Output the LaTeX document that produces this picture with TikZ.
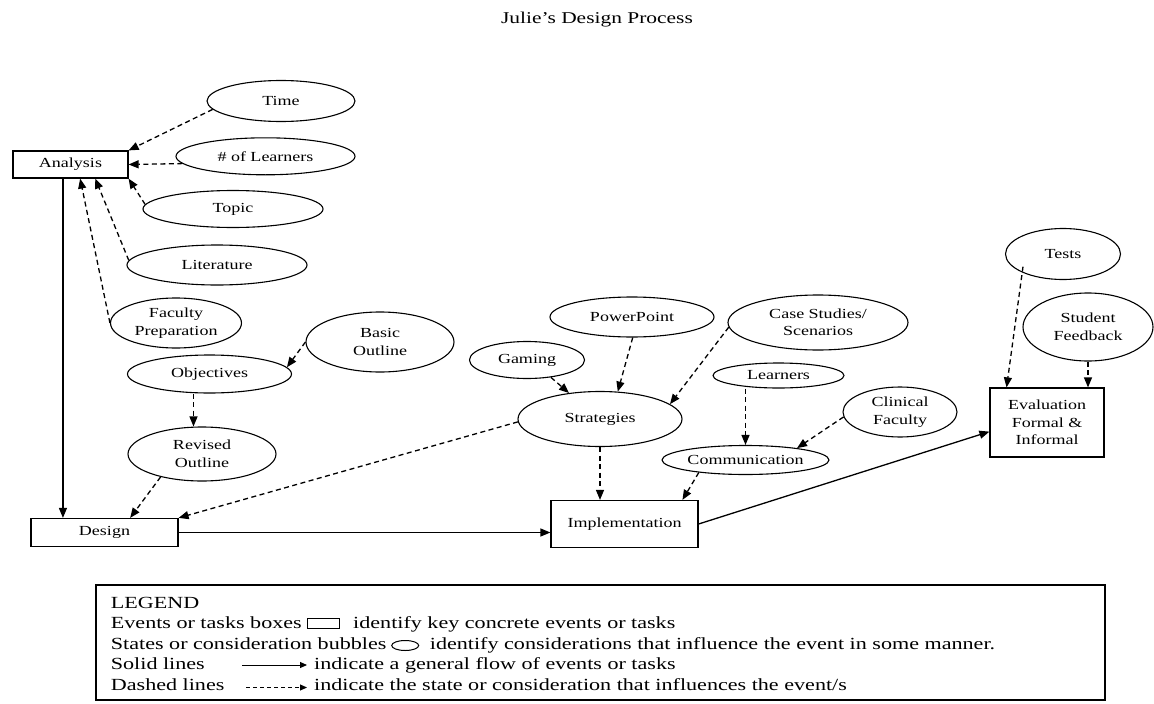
\documentclass[tikz,border=0pt]{standalone}
\usepackage{fontspec}
\setmainfont{Liberation Serif}[FakeStretch=1.3]
\usetikzlibrary{arrows.meta,shapes.geometric,calc}
\newcommand{\nodefont}{\fontsize{13.85}{17.5}\selectfont}
\newcommand{\legendfont}{\fontsize{17}{20.6}\selectfont}
\newcommand{\titlefont}{\fontsize{16.5}{20}\selectfont}

\begin{document}
\begin{tikzpicture}[x=1pt,y=-1pt,
  bubble/.style={ellipse, draw, line width=1.1pt, inner sep=0pt, align=center, font=\nodefont},
  taskbox/.style={rectangle, draw, line width=1.2pt, inner sep=0pt, align=center, font=\nodefont},
  flow/.style={line width=1.3pt, -{Triangle[length=10pt,width=8pt]}},
  influence/.style={flow, line width=1.3pt, dash pattern=on 5pt off 3.5pt},
  legtext/.style={anchor=base west, inner sep=0pt, font=\legendfont},
  legflow/.style={line width=1pt, -{Triangle[length=7pt,width=6pt]}},
  leginfluence/.style={legflow, dash pattern=on 4pt off 3pt}
]
\path[use as bounding box, fill=white] (0,0) rectangle (1154,704);

% title
\node[font=\titlefont] (title) at (597,20) {Julie's Design Process};

% events and tasks
\node[taskbox, minimum width=115pt, minimum height=27pt] (analysis) at (70.5,164.5) {Analysis};
\node[taskbox, minimum width=147pt, minimum height=28pt] (design) at (104.5,532.5) {Design};
\node[taskbox, minimum width=147pt, minimum height=47pt] (impl) at (624.5,524) {Implementation};
\node[taskbox, minimum width=114pt, minimum height=69pt] (eval) at (1047,422.5) {Evaluation\\Formal \&\\Informal};

% considerations
\node[bubble, minimum width=148pt, minimum height=41pt] (time) at (281,101) {Time};
\node[bubble, minimum width=179pt, minimum height=37pt] (nol) at (265.5,156.3) {\# of Learners};
\node[bubble, minimum width=180pt, minimum height=37pt] (topic) at (233,209) {Topic};
\node[bubble, minimum width=180pt, minimum height=40pt] (lit) at (217,265) {Literature};
\node[bubble, minimum width=131pt, minimum height=50pt] (fac) at (176,323) {Faculty\\Preparation};
\node[bubble, minimum width=148pt, minimum height=60pt] (basic) at (380,342) {Basic\\Outline};
\node[bubble, minimum width=164pt, minimum height=38pt] (obj) at (209.5,374) {Objectives};
\node[bubble, minimum width=148pt, minimum height=54pt] (rev) at (202,454) {Revised\\Outline};
\node[bubble, minimum width=115pt, minimum height=37pt] (gaming) at (527,360) {Gaming};
\node[bubble, minimum width=164pt, minimum height=40pt] (pp) at (632,317) {PowerPoint};
\node[bubble, minimum width=180pt, minimum height=55pt] (case) at (818,322.5) {Case Studies/\\Scenarios};
\node[bubble, minimum width=164pt, minimum height=55pt] (strat) at (600,419) {Strategies};
\node[bubble, minimum width=131pt, minimum height=25pt] (learn) at (778.5,375.5) {Learners};
\node[bubble, minimum width=114pt, minimum height=50pt] (clin) at (900,412) {Clinical\\Faculty};
\node[bubble, minimum width=167pt, minimum height=29pt] (comm) at (745.5,460) {Communication};
\node[bubble, minimum width=115pt, minimum height=51pt] (tests) at (1063,254) {Tests};
\node[bubble, minimum width=130pt, minimum height=68pt] (sf) at (1088,327) {Student\\Feedback};

% influences on analysis
\draw[influence] (time.187) -- (analysis.north east);
\draw[influence] (nol.185) -- (analysis.east);
\draw[influence] (topic.177) -- (analysis.south east);
\draw[influence] (lit.177) -- ($(analysis.south west)!0.713!(analysis.south east)$);
\draw[influence] (fac.west) -- ($(analysis.south west)!0.583!(analysis.south east)$);

% analysis to design
\draw[flow] ($(analysis.south west)!0.435!(analysis.south east)$) coordinate (adrop)
  -- (adrop |- design.north);

% design considerations
\draw[influence] (basic.west) -- (obj.5);
\draw[influence] ($(obj.south)+(-16,0)$) -- ($(rev.north)+(-8.5,0)$);
\draw[influence] (rev.209) -- ($(design.north west)!0.673!(design.north east)$);
\draw[influence] (strat.182) -- (design.north east);

% design to implementation
\draw[flow] (design.east) -- (design.east -| impl.west);

% strategies
\draw[influence] (gaming.324) -- (strat.140);
\draw[influence] (pp.272) -- (strat.57);
\draw[influence] (case.183) -- (strat.12);
\draw[influence] (strat.south) -- (strat.south |- impl.north);

% communication
\draw[influence] (learn.south -| comm.north) -- (comm.north);
\draw[influence] (clin.185) -- (comm.13);
\draw[influence] (comm.195) -- ($(impl.north west)!0.891!(impl.north east)$);

% implementation to evaluation
\draw[flow] (impl.east) -- (eval.189);
\draw[influence] ($(tests.center)+(-40,12.7)$) -- ($(eval.north west)!0.149!(eval.north east)$);
\draw[influence] (sf.south) -- (sf.south |- eval.north);

% legend
\node[draw, line width=1.1pt, minimum width=1009pt, minimum height=115pt, inner sep=0pt] (legend) at (600.5,642.5) {};
\node[legtext] (legtitle) at (110.7,608) {LEGEND};

\node[legtext] (ev) at (110.7,628.5) {Events or tasks boxes};
\draw[line width=1pt] ([xshift=6pt,yshift=0.5pt]ev.base east) rectangle ([xshift=38pt,yshift=10.5pt]ev.base east);
\node[legtext] (evtxt) at ([xshift=51pt]ev.base east) {identify key concrete events or tasks};

\node[legtext] (st) at (110.7,649) {States or consideration bubbles};
\draw[line width=1pt] ([xshift=18.5pt,yshift=3.5pt]st.base east) ellipse [x radius=13.5pt, y radius=5pt];
\node[legtext] (sttxt) at ([xshift=43pt]st.base east) {identify considerations that influence the event in some manner.};

\node[legtext] (so) at (110.7,669.5) {Solid lines};
\coordinate (solidA) at (242,665);
\coordinate (solidB) at (307,665);
\draw[legflow] (solidA) -- (solidB);
\node[legtext] (sotxt) at (314,669.5) {indicate a general flow of events or tasks};

\node[legtext] (da) at (110.7,690.5) {Dashed lines};
\coordinate (dashA) at (246,687.5);
\coordinate (dashB) at (307,687.5);
\draw[leginfluence] (dashA) -- (dashB);
\node[legtext] (datxt) at (314,690.5) {indicate the state or consideration that influences the event/s};
\end{tikzpicture}
\end{document}
